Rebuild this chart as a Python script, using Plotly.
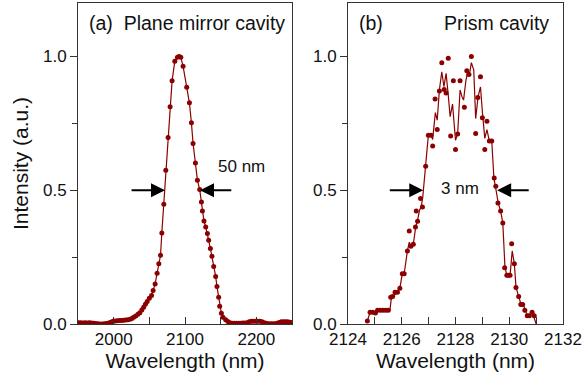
import plotly.graph_objects as go

# ---- Panel (a): plane mirror cavity ----
wl_a = [1951, 1954, 1957, 1960, 1963, 1966, 1969, 1972, 1975, 1978, 1981, 1984, 1987, 1990,
        1993, 1996, 1999, 2002, 2005, 2008, 2011, 2014, 2017, 2020, 2023, 2025.5, 2028, 2031,
        2034, 2036.7, 2039.5, 2042, 2044.5, 2047, 2050, 2053.1, 2055.3, 2058.1, 2060.9, 2063.3,
        2065.7, 2067.5, 2070.3, 2073.1, 2076.3, 2079.1, 2081.9, 2085.7, 2089.4, 2091.7, 2094.1,
        2097.3, 2102.4, 2106.2, 2109.0, 2111.3, 2114.6, 2117.4, 2120.6, 2123.0, 2124.4, 2126.6,
        2129.0, 2131.4, 2133.2, 2135.6, 2137.8, 2140.2, 2143.0, 2144.8, 2147.2, 2148.6, 2151.0,
        2153.2, 2157, 2160, 2163, 2166, 2169, 2172, 2175, 2178, 2181, 2184, 2187, 2190, 2193,
        2196, 2199, 2202, 2205, 2208, 2211, 2214, 2217, 2220, 2223, 2226, 2229, 2232, 2235,
        2238, 2241, 2244, 2247, 2250]
int_a = [0.005, 0.005, 0.004, 0.005, 0.004, 0.005, 0.004, 0.003, 0.002, 0.001, 0.000, 0.000,
         0.001, 0.002, 0.004, 0.007, 0.010, 0.011, 0.012, 0.013, 0.013, 0.014, 0.015, 0.016,
         0.018, 0.021, 0.025, 0.030, 0.036, 0.042, 0.052, 0.063, 0.074, 0.084, 0.096, 0.107,
         0.125, 0.150, 0.190, 0.225, 0.257, 0.340, 0.448, 0.575, 0.697, 0.812, 0.909, 0.982,
         0.997, 1.000, 0.997, 0.964, 0.885, 0.827, 0.752, 0.675, 0.602, 0.537, 0.503, 0.456,
         0.422, 0.385, 0.363, 0.338, 0.313, 0.282, 0.253, 0.215, 0.178, 0.140, 0.100, 0.066,
         0.040, 0.025, 0.016, 0.009, 0.005, 0.003, 0.003, 0.003, 0.003, 0.003, 0.004, 0.004,
         0.005, 0.008, 0.010, 0.010, 0.010, 0.010, 0.010, 0.008, 0.005, 0.003, 0.001, 0.001,
         0.001, 0.001, 0.003, 0.006, 0.008, 0.008, 0.008, 0.008, 0.007, 0.006]

# ---- Panel (b): prism cavity ----
wl_b_line = [2124.72, 2124.82, 2124.92, 2125.02, 2125.09, 2125.56, 2125.62, 2125.72, 2125.83,
             2125.93, 2126.02, 2126.09, 2126.21, 2126.28, 2126.34, 2126.43, 2126.52, 2126.58,
             2126.66, 2126.72, 2126.78, 2126.89, 2126.99, 2127.09, 2127.15, 2127.25, 2127.32,
             2127.40, 2127.49, 2127.57, 2127.65, 2127.73, 2127.80, 2127.89, 2128.00, 2128.08,
             2128.17, 2128.24, 2128.30, 2128.39, 2128.46, 2128.52, 2128.59, 2128.68, 2128.75,
             2128.84, 2128.93, 2129.00, 2129.09, 2129.17, 2129.26, 2129.35, 2129.38, 2129.43,
             2129.51, 2129.59, 2129.68, 2129.76, 2129.84, 2129.91, 2130.03, 2130.11, 2130.19,
             2130.25, 2130.35, 2130.43, 2130.52, 2130.61, 2130.67, 2130.77, 2130.85, 2130.92,
             2131.00]
int_b_line = [0.011, 0.044, 0.044, 0.040, 0.051, 0.051, 0.103, 0.107, 0.119, 0.134, 0.188,
              0.188, 0.273, 0.306, 0.290, 0.298, 0.363, 0.384, 0.425, 0.437, 0.472, 0.590,
              0.706, 0.706, 0.690, 0.790, 0.762, 0.875, 0.943, 0.887, 0.937, 0.856, 0.775,
              0.822, 0.687, 0.712, 0.875, 0.850, 0.837, 0.912, 0.947, 0.934, 0.977, 0.949,
              0.768, 0.850, 0.886, 0.793, 0.694, 0.727, 0.684, 0.684, 0.612, 0.544, 0.500,
              0.452, 0.422, 0.378, 0.213, 0.182, 0.182, 0.273, 0.225, 0.138, 0.103, 0.076,
              0.073, 0.051, 0.031, 0.031, 0.044, 0.025, 0.000]

wl_b_pts = [2124.72, 2124.82, 2124.92, 2125.02, 2125.10, 2125.20, 2125.30, 2125.40, 2125.50,
            2125.59, 2125.66, 2125.75, 2125.84, 2125.93, 2126.02, 2126.09, 2126.21, 2126.28,
            2126.34, 2126.43, 2126.51, 2126.54, 2126.59, 2126.70, 2126.77, 2126.89, 2126.99,
            2127.09, 2127.15, 2127.24, 2127.32, 2127.40, 2127.49, 2127.58, 2127.65, 2127.73,
            2127.82, 2127.92, 2128.00, 2128.08, 2128.17, 2128.33, 2128.42, 2128.50, 2128.59,
            2128.75, 2128.83, 2128.93, 2129.00, 2129.09, 2129.17, 2129.26, 2129.35, 2129.44,
            2129.50, 2129.58, 2129.68, 2129.76, 2129.83, 2129.91, 2129.97, 2130.03, 2130.09,
            2130.19, 2130.25, 2130.35, 2130.43, 2130.50, 2130.58, 2130.67, 2130.75, 2130.85,
            2130.93]
int_b_pts = [0.011, 0.044, 0.044, 0.041, 0.051, 0.051, 0.051, 0.051, 0.051, 0.100, 0.103,
             0.119, 0.119, 0.134, 0.188, 0.188, 0.273, 0.348, 0.291, 0.298, 0.363, 0.422,
             0.384, 0.469, 0.437, 0.590, 0.706, 0.706, 0.665, 0.841, 0.727, 0.871, 0.977,
             0.877, 0.864, 0.993, 0.703, 0.909, 0.652, 0.710, 0.909, 0.810, 0.947, 0.933,
             1.000, 0.712, 0.847, 0.924, 0.771, 0.652, 0.758, 0.684, 0.684, 0.546, 0.515,
             0.452, 0.422, 0.378, 0.210, 0.182, 0.182, 0.182, 0.300, 0.225, 0.136, 0.103,
             0.073, 0.073, 0.051, 0.031, 0.031, 0.044, 0.031]

y_ticks = [0.0, 0.5, 1.0]
y_tick_labels = ["0.0", "0.5", "1.0"]

RED = "#8B0000"
FONT = "Arial, Liberation Sans, sans-serif"
W, H = 582, 383

fig = go.Figure()
fig.add_trace(go.Scatter(x=wl_a, y=int_a, mode="lines+markers",
                         line=dict(color=RED, width=1.2),
                         marker=dict(color=RED, size=5), xaxis="x", yaxis="y"))
fig.add_trace(go.Scatter(x=wl_b_line, y=int_b_line, mode="lines",
                         line=dict(color=RED, width=1.2), xaxis="x2", yaxis="y2"))
fig.add_trace(go.Scatter(x=wl_b_pts, y=int_b_pts, mode="markers",
                         marker=dict(color=RED, size=5), xaxis="x2", yaxis="y2"))

def px_x(p):
    return p / W

def px_y(p):
    return 1 - p / H

axis_common = dict(showline=True, linecolor="#333", linewidth=1, mirror=True,
                   showgrid=False, zeroline=False, tickcolor="#333", ticklen=7,
                   automargin=False,
                   tickfont=dict(family=FONT, size=17, color="#111"))

ydom = [px_y(324), px_y(3)]
fig.update_layout(
    width=W, height=H, margin=dict(l=0, r=0, t=0, b=0),
    paper_bgcolor="white", plot_bgcolor="white", showlegend=False,
    font=dict(family=FONT, color="#111"),
    xaxis=dict(domain=[px_x(78), px_x(292)], range=[1950, 2250], anchor="y",
               tickvals=[2000, 2100, 2200], ticks="inside",
               minor=dict(tickvals=[2050, 2150], ticks="inside", ticklen=7, tickcolor="#333"),
               title=dict(text="Wavelength (nm)", font=dict(family=FONT, size=21), standoff=4),
               **axis_common),
    yaxis=dict(domain=ydom, range=[0, 1.2], anchor="x",
               tickvals=y_ticks, ticktext=y_tick_labels, ticks="outside",
               minor=dict(tickvals=[0.25, 0.75], ticks="outside", ticklen=5, tickcolor="#333"),
               title=dict(text="Intensity (a.u.)", font=dict(family=FONT, size=21), standoff=8),
               **axis_common),
    xaxis2=dict(domain=[px_x(348), px_x(563)], range=[2124, 2132], anchor="y2",
                tickvals=[2124, 2126, 2128, 2130, 2132], ticks="inside",
                minor=dict(tickvals=[2125, 2127, 2129, 2131], ticks="inside", ticklen=7,
                           tickcolor="#333"),
                title=dict(text="Wavelength (nm)", font=dict(family=FONT, size=21), standoff=4),
                **axis_common),
    yaxis2=dict(domain=ydom, range=[0, 1.2], anchor="x2",
                tickvals=y_ticks, ticktext=y_tick_labels, ticks="outside",
                minor=dict(tickvals=[0.25, 0.75], ticks="outside", ticklen=5, tickcolor="#333"),
                **axis_common),
)

ann = []
ann.append(dict(xref="paper", yref="paper", x=px_x(87), y=px_y(23), xanchor="left",
                yanchor="middle", text="(a)  Plane mirror cavity", showarrow=False,
                font=dict(family=FONT, size=19.5, color="#111")))
ann.append(dict(xref="paper", yref="paper", x=px_x(357), y=px_y(23), xanchor="left",
                yanchor="middle", text="(b)", showarrow=False,
                font=dict(family=FONT, size=19.5, color="#111")))
ann.append(dict(xref="paper", yref="paper", x=px_x(551), y=px_y(23), xanchor="right",
                yanchor="middle", text="Prism cavity", showarrow=False,
                font=dict(family=FONT, size=19.5, color="#111")))
ann.append(dict(xref="x", yref="y", x=2144, y=0.59, xanchor="left", yanchor="middle",
                text="50 nm", showarrow=False, font=dict(family=FONT, size=17, color="#111")))
ann.append(dict(xref="x2", yref="y2", x=2128.17, y=0.507, xanchor="center", yanchor="middle",
                text="3 nm", showarrow=False, font=dict(family=FONT, size=17, color="#111")))

arrow_style = dict(showarrow=True, text="", arrowhead=2, arrowsize=1.4, arrowwidth=2,
                   arrowcolor="black", standoff=0, startstandoff=0)
ann.append(dict(xref="x", yref="y", axref="x", ayref="y", x=2072, y=0.5, ax=2023, ay=0.5,
                **arrow_style))
ann.append(dict(xref="x", yref="y", axref="x", ayref="y", x=2121, y=0.5, ax=2167, ay=0.5,
                **arrow_style))
ann.append(dict(xref="x2", yref="y2", axref="x2", ayref="y2", x=2126.8, y=0.5, ax=2125.5,
                ay=0.5, **arrow_style))
ann.append(dict(xref="x2", yref="y2", axref="x2", ayref="y2", x=2129.55, y=0.5, ax=2130.78,
                ay=0.5, **arrow_style))
fig.update_layout(annotations=ann)

fig.write_html("out.html")
